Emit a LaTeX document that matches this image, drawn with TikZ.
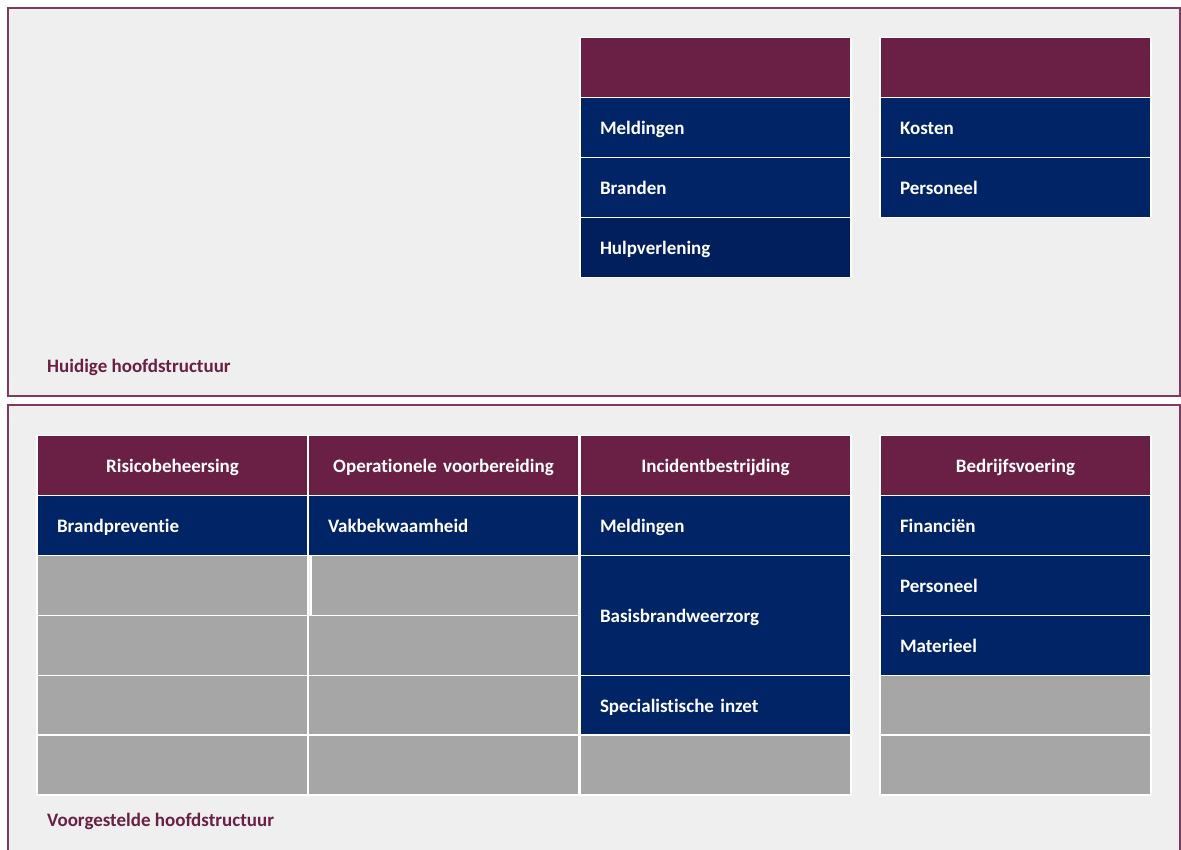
\documentclass[tikz,border=0pt]{standalone}
\usepackage{fontspec}
\setmainfont[Ligatures={NoCommon}]{Carlito}
\definecolor{bgc}{HTML}{EFEFEF}
\definecolor{plum}{HTML}{6A1F44}
\definecolor{frame}{HTML}{7E3A60}
\definecolor{navy}{HTML}{002466}
\definecolor{navyd}{HTML}{001F5C}
\definecolor{grayc}{HTML}{A6A6A6}
\tikzset{
  cellbase/.style={draw=white, line width=1.5pt, inner ysep=0pt, minimum height=60pt, text height=15pt, text depth=2pt, text=white, font=\bfseries\fontsize{19}{22}\selectfont},
  headc/.style={cellbase, fill=plum, minimum width=271pt, text width=251pt, inner xsep=10pt, align=center},
  itemc/.style={cellbase, fill=navy, minimum width=271pt, text width=231pt, inner xsep=20pt, align=left},
  emptyc/.style={cellbase, fill=grayc, minimum width=271pt, text width=231pt, inner xsep=20pt},
  panel/.style={draw=frame, line width=2pt, fill=bgc},
  paneltitle/.style={anchor=west, text=plum, font=\bfseries\fontsize{19}{22}\selectfont, inner sep=0pt, text height=15pt, text depth=2pt}
}
\begin{document}
\begin{tikzpicture}[x=1pt,y=-1pt]
\useasboundingbox (0,0) rectangle (1181,849);
\fill[white] (0,0) rectangle (1181,849);
% panels
\draw[panel] (8,8) rectangle (1179.5,395.5);
\draw[panel] (8,405) rectangle (1179.5,870);
% top panel
\node[headc] (t3h) at (715.5,67.5) {};
\node[itemc] (t3a) at (715.5,127.5) {Meldingen};
\node[itemc] (t3b) at (715.5,187.5) {Branden};
\node[itemc, fill=navyd] (t3c) at (715.5,247.5) {Hulpverlening};
\node[headc] (t4h) at (1015.5,67.5) {};
\node[itemc] (t4a) at (1015.5,127.5) {Kosten};
\node[itemc] (t4b) at (1015.5,187.5) {Personeel};
\node[paneltitle] (ttl) at (47,366) {Huidige hoofdstructuur};
% bottom panel column 1
\node[headc] (b1h) at (172.5,465.5) {Risicobeheersing};
\node[itemc] (b1a) at (172.5,525.5) {Brandpreventie};
\node[emptyc] (b1b) at (172.5,585.5) {};
\node[emptyc] (b1c) at (172.5,645.5) {};
\node[emptyc] (b1d) at (172.5,705.5) {};
\node[emptyc] (b1e) at (172.5,765) {};
% column 2
\node[headc] (b2h) at (443.5,465.5) {Operationele voorbereiding};
\node[itemc] (b2a) at (443.5,525.5) {Vakbekwaamheid};
\node[emptyc, minimum width=268pt, text width=228pt] (b2b) at (445,585.5) {};
\node[emptyc] (b2c) at (443.5,645.5) {};
\node[emptyc] (b2d) at (443.5,705.5) {};
\node[emptyc] (b2e) at (443.5,765) {};
% column 3
\node[headc] (b3h) at (715.5,465.5) {Incidentbestrijding};
\node[itemc] (b3a) at (715.5,525.5) {Meldingen};
\node[itemc, minimum height=120pt] (b3b) at (715.5,615.5) {Basisbrandweerzorg};
\node[itemc] (b3c) at (715.5,705.5) {Specialistische inzet};
\node[emptyc] (b3d) at (715.5,765) {};
% column 4
\node[headc] (b4h) at (1015.5,465.5) {Bedrijfsvoering};
\node[itemc] (b4a) at (1015.5,525.5) {Financiën};
\node[itemc] (b4b) at (1015.5,585.5) {Personeel};
\node[itemc] (b4c) at (1015.5,645.5) {Materieel};
\node[emptyc] (b4d) at (1015.5,705.5) {};
\node[emptyc] (b4e) at (1015.5,765) {};
\node[paneltitle] (btl) at (47,820) {Voorgestelde hoofdstructuur};
\end{tikzpicture}
\end{document}
